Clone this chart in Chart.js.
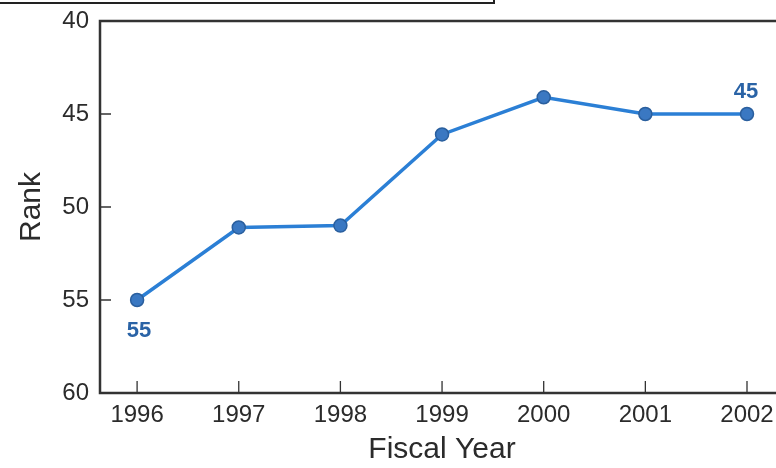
<!DOCTYPE html>
<html>
<head>
<meta charset="utf-8">
<script src="https://cdn.jsdelivr.net/npm/chart.js@4"></script>
<style>
  html, body { margin: 0; padding: 0; background: #fff; }
  #wrap { position: relative; width: 776px; height: 468px; overflow: hidden; }
  #box { position: absolute; left: -2px; top: -4px; width: 495px; height: 6px;
         border-right: 2px solid #222; border-bottom: 2px solid #222; }
</style>
</head>
<body>
<div id="wrap">
  <canvas id="myChart" width="792" height="468"></canvas>
  <div id="box"></div>
</div>
<script>
// rank by fiscal year
const years = [1996, 1997, 1998, 1999, 2000, 2001, 2002];
const ranks = [55, 51.1, 51.0, 46.1, 44.1, 45, 45];
const rankTicks = [40, 45, 50, 55, 60];
const labelled = [0, 6]; // points that get their value printed

const blue = '#2b7fd5';
const dark = '#2b2b2b';
const fam = '"Liberation Sans", Arial, Helvetica, sans-serif';

// frame on left/top/bottom + inward tick marks
const framePlugin = {
  id: 'frame',
  afterDraw(chart) {
    const { ctx, chartArea: a, scales } = chart;
    ctx.save();
    ctx.strokeStyle = '#333';
    ctx.lineWidth = 2.5;
    ctx.beginPath();
    ctx.moveTo(a.right + 20, a.top);
    ctx.lineTo(a.left, a.top);
    ctx.lineTo(a.left, a.bottom);
    ctx.lineTo(a.right + 20, a.bottom);
    ctx.stroke();
    ctx.lineWidth = 1.3;
    ctx.beginPath();
    rankTicks.forEach(v => {
      const y = scales.y.getPixelForValue(v);
      ctx.moveTo(a.left, y);
      ctx.lineTo(a.left + 11, y);
    });
    years.forEach(v => {
      const x = scales.x.getPixelForValue(v);
      ctx.moveTo(x, a.bottom);
      ctx.lineTo(x, a.bottom - 12);
    });
    ctx.stroke();
    ctx.restore();
  }
};

// value labels under the first point and above the last
const valuePlugin = {
  id: 'values',
  afterDatasetsDraw(chart) {
    const { ctx } = chart;
    const meta = chart.getDatasetMeta(0);
    ctx.save();
    ctx.font = 'bold 22px ' + fam;
    ctx.fillStyle = '#2a63a6';
    ctx.textAlign = 'center';
    ctx.textBaseline = 'middle';
    labelled.forEach(i => {
      const p = meta.data[i];
      const txt = String(Math.round(ranks[i]));
      if (i === 0) {
        ctx.fillText(txt, p.x + 2, p.y + 31);
      } else {
        ctx.fillText(txt, p.x - 1, p.y - 22);
      }
    });
    ctx.restore();
  }
};

new Chart(document.getElementById('myChart'), {
  type: 'line',
  data: {
    datasets: [{
      data: years.map((y, i) => ({ x: y, y: ranks[i] })),
      borderColor: blue,
      borderWidth: 3.5,
      pointRadius: 6.5,
      pointBackgroundColor: '#3a78c2',
      pointBorderColor: '#2a5f9e',
      pointBorderWidth: 1.5,
      tension: 0
    }]
  },
  options: {
    responsive: false,
    animation: false,
    layout: { padding: { top: 21, right: 0, left: 0, bottom: 0 } },
    plugins: { legend: { display: false }, tooltip: { enabled: false } },
    scales: {
      x: {
        type: 'linear',
        min: 1995.635,
        max: 2002.364,
        afterBuildTicks(scale) { scale.ticks = years.map(v => ({ value: v })); },
        afterFit(scale) { scale.height = 75; },
        border: { display: false },
        grid: { display: false, drawTicks: false },
        ticks: {
          padding: 8,
          color: dark,
          maxRotation: 0,
          font: { family: fam, size: 24 },
          callback: v => String(v)
        },
        title: {
          display: true,
          text: 'Fiscal Year',
          color: dark,
          padding: { top: 0, bottom: 0 },
          font: { family: fam, size: 30 }
        }
      },
      y: {
        reverse: true,
        min: 40,
        max: 60,
        afterBuildTicks(scale) { scale.ticks = rankTicks.map(v => ({ value: v })); },
        afterFit(scale) {
          scale.width = 100;
          scale.paddingTop = 0;
          scale.paddingBottom = 0;
        },
        border: { display: false },
        grid: { display: false, drawTicks: false },
        ticks: {
          padding: 11,
          color: dark,
          font: { family: fam, size: 24 }
        },
        title: {
          display: true,
          text: 'Rank',
          color: dark,
          padding: { top: 14, bottom: 0 },
          font: { family: fam, size: 30 }
        }
      }
    }
  },
  plugins: [framePlugin, valuePlugin]
});
</script>
</body>
</html>
